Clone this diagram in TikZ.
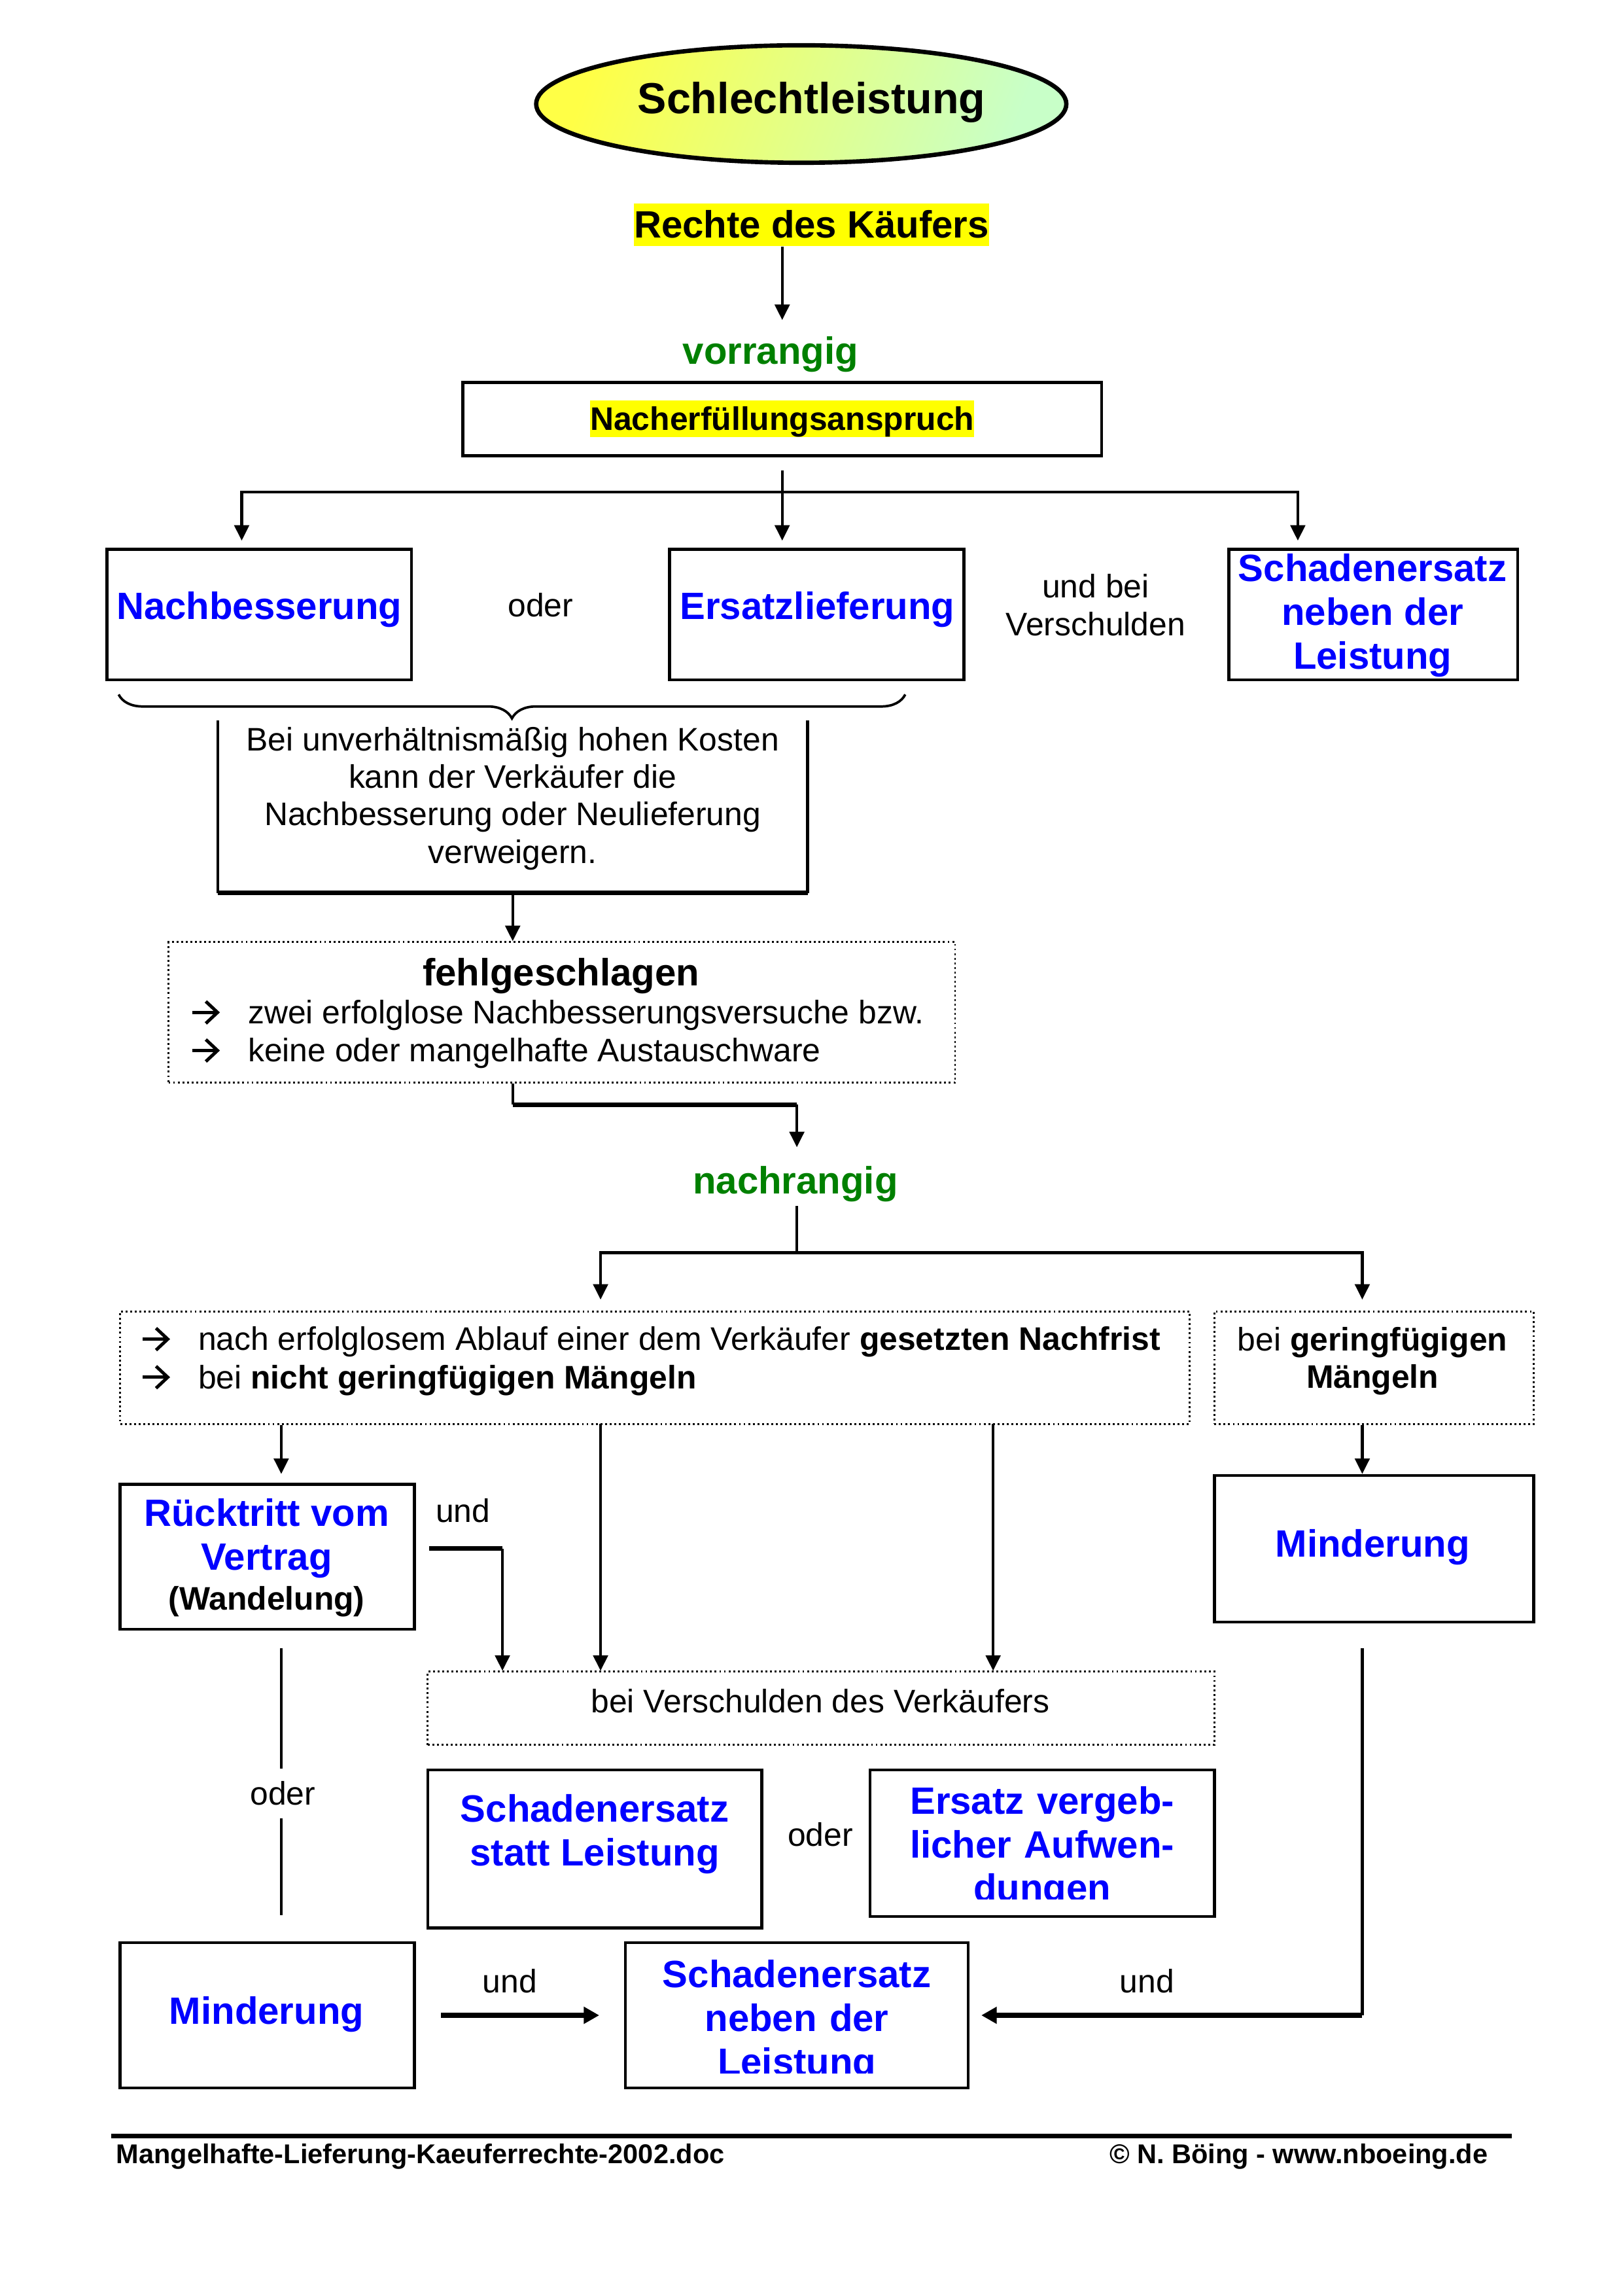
\documentclass[tikz,border=0pt]{standalone}
\usepackage{fontspec}
\setmainfont{Liberation Sans}
\usetikzlibrary{shapes.geometric, arrows.meta, fit, decorations.pathreplacing}
\definecolor{myblue}{RGB}{0,0,255}
\definecolor{mygreen}{RGB}{0,128,0}
\definecolor{hly}{RGB}{255,255,0}
\definecolor{elly}{RGB}{255,255,70}
\definecolor{ellg}{RGB}{200,255,200}
\tikzset{
  box/.style={draw, line width=1.1pt, inner sep=0pt},
  dbox/.style={draw, densely dotted, line width=0.7pt, inner sep=0pt},
  ttl/.style={font=\fontsize{14}{16.1}\selectfont\bfseries, text=myblue, align=center, inner sep=0pt},
  txt/.style={font=\fontsize{12}{13.8}\selectfont, align=center, inner sep=0pt},
  btxt/.style={font=\fontsize{12}{13.8}\selectfont\bfseries, align=center, inner sep=0pt},
  gtxt/.style={font=\fontsize{14}{16.1}\selectfont\bfseries, text=mygreen, inner sep=0pt},
  arr/.style={line width=1pt, -{Triangle[length=2mm, width=1.9mm]}},
  ln/.style={line width=1pt},
  thk/.style={line width=1.7pt},
  bigarr/.style={line width=1.7pt, -{Triangle[length=2mm, width=2.1mm]}},
  rarr/.pic={
    \draw[line width=0.42mm] (-8.5,0) -- (7.5,0);
    \draw[line width=0.42mm, miter limit=10] (0.5,-7.5) -- (8.5,0) -- (0.5,7.5);
  },
}
\begin{document}
\begin{tikzpicture}[x=0.18953mm, y=-0.18953mm]
\useasboundingbox (0,0) rectangle (1108,1567.1);

% Title
\node[ellipse, draw, line width=1.6pt, minimum width=68.6mm, minimum height=15.2mm,
      left color=elly, right color=ellg, shading angle=70, inner sep=0pt] (ell) at (547,71) {};
\node[font=\fontsize{16}{18}\selectfont\bfseries, inner sep=0pt] (tit) at (554,70) {Schlechtleistung};

\node[fill=hly, inner sep=0pt, text height=12.7pt, text depth=3pt,
      font=\fontsize{14}{16}\selectfont\bfseries] (rk) at (554,153.5) {Rechte des Käufers};

\node[gtxt] (vor) at (526,242) {vorrangig};

\node[box, fit={(316,261) (752,311)}] (nfa) {};
\node[fill=hly, inner sep=0pt, text height=10.9pt, text depth=2.6pt,
      font=\fontsize{12}{13.8}\selectfont\bfseries] (nfat) at (534,286) {Nacherfüllungsanspruch};

\draw[arr] (rk.south -| nfa.north) -- ++(0,50);

% Branch 1
\coordinate (br) at (534,336);
\coordinate (bl) at (165,369);
\coordinate (bm) at (534,369);
\coordinate (bri) at (886,369);
\draw[ln, shorten <=1.7mm] (nfa.south) -- (br);
\draw[arr] (br) -| (bl);
\draw[arr] (br) -- (bm);
\draw[arr] (br) -| (bri);

% Row 1
\node[box, fit={(73,375) (281,464)}] (nb) {};
\node[ttl] (nbt) at (177,416) {Nachbesserung};
\node[txt] (od1) at (369,413) {oder};
\node[box, fit={(457,375) (658,464)}] (el) {};
\node[ttl] (elt) at (558,416) {Ersatzlieferung};
\node[txt] (ubv) at (748,413) {und bei\\Verschulden};
\node[box, fit={(839,375) (1036,464)}] (se1) {};
\node[ttl] (se1t) at (937,420) {Schadenersatz\\neben der\\Leistung};

% Brace
\draw[line width=0.9pt, decorate, decoration={brace, mirror, amplitude=3.1mm}] (81,474) -- (618,474);

% Box Bei unverhältnismäßig
\node[fit={(149,492) (551,609)}, inner sep=0pt] (bk) {};
\draw[line width=1.1pt] (bk.north west) -- (bk.south west);
\draw[line width=1.7pt] (bk.south west) -- (bk.south east);
\draw[line width=1.1pt] (bk.south east) -- (bk.north east);
\node[txt] (bkt) at (350,545) {Bei unverhältnismäßig hohen Kosten\\kann der Verkäufer die\\Nachbesserung oder Neulieferung\\verweigern.};

% fehlgeschlagen
\node[dbox, fit={(115,643) (652,739)}] (fg) {};
\draw[arr] (bk.south) -- (bk.south |- fg.north);
\node[font=\fontsize{14}{16}\selectfont\bfseries, inner sep=0pt] (fgt) at (383,666) {fehlgeschlagen};
\pic at (140,691) {rarr};
\pic at (140,717) {rarr};
\node[txt, anchor=west] (fgl1) at (169,693) {zwei erfolglose Nachbesserungsversuche bzw.};
\node[txt, anchor=west] (fgl2) at (169,719) {keine oder mangelhafte Austauschware};

\coordinate (c1) at (350,754);
\coordinate (c2) at (544,754);
\coordinate (c3) at (544,783);
\draw[ln] (fg.south -| c1) -- (c1);
\draw[thk] (c1) -- (c2);
\draw[arr] (c2) -- (c3);

\node[gtxt] (nr) at (543,808) {nachrangig};

% Branch 2
\coordinate (c4) at (544,823);
\coordinate (c5) at (544,855);
\coordinate (c6) at (410,887);
\coordinate (c7) at (930,887);
\draw[ln] (c4) -- (c5);
\draw[arr] (c5) -| (c6);
\draw[arr] (c5) -| (c7);

% Conditions
\node[dbox, fit={(82,895) (812,972)}] (n1) {};
\pic at (106,914) {rarr};
\pic at (106,940) {rarr};
\node[txt, anchor=west] (n1l1) at (135,916) {nach erfolglosem Ablauf einer dem Verkäufer \textbf{gesetzten Nachfrist}};
\node[txt, anchor=west] (n1l2) at (135,942) {bei \textbf{nicht geringfügigen Mängeln}};

\node[dbox, fit={(829,895) (1047,972)}] (n2) {};
\node[txt] (n2t) at (937,929) {bei \textbf{geringfügigen}\\\textbf{Mängeln}};

% Rücktritt
\node[box, fit={(82,1013) (283,1112)}] (rt) {};
\node[ttl] (rtt) at (182,1050) {Rücktritt vom\\Vertrag};
\node[btxt] (rtw) at (182,1093) {(Wandelung)};

\coordinate (a192) at (192,1006);
\draw[arr] (n1.south -| a192) -- (a192);

% Minderung right
\node[box, fit={(829,1007) (1047,1107)}] (mr) {};
\node[ttl] (mrt) at (937,1056) {Minderung};
\coordinate (a930) at (930,1006);
\draw[arr] (n2.south -| a930) -- (a930);

% bei Verschulden des Verkäufers
\node[dbox, fit={(292,1141) (829,1191)}] (bv) {};
\node[txt] (bvt) at (560,1161) {bei Verschulden des Verkäufers};

\node[txt] (und1) at (316,1031) {und};
\coordinate (u1) at (293,1057);
\coordinate (u2) at (343,1057);
\draw[thk] (u1) -- (u2);
\draw[arr] (u2) -- (u2 |- bv.north);

\coordinate (a410) at (410,972);
\coordinate (a678) at (678,972);
\draw[arr] (a410) -- (a410 |- bv.north);
\draw[arr] (a678) -- (a678 |- bv.north);

% oder vertical
\coordinate (o1) at (192,1125);
\coordinate (o2) at (192,1207);
\coordinate (o3) at (192,1241);
\coordinate (o4) at (192,1307);
\draw[ln] (o1) -- (o2);
\node[txt] (od2) at (193,1224) {oder};
\draw[ln] (o3) -- (o4);

% Schadenersatz statt Leistung
\node[box, fit={(292,1208) (520,1316)}] (ss) {};
\node[ttl] (sst) at (406,1252) {Schadenersatz\\statt Leistung};
\node[txt] (od3) at (560,1252) {oder};
\node[box, fit={(594,1208) (829,1308)},
      path picture={
        \clip ([yshift=2.2mm]path picture bounding box.south west) rectangle (path picture bounding box.north east);
        \node[ttl] (evt) at ([yshift=-2.4mm]path picture bounding box.center) {Ersatz vergeb-\\licher Aufwen-\\dungen};}] (ev) {};

% Bottom row
\node[box, fit={(82,1326) (283,1425)}] (mb) {};
\node[ttl] (mbt) at (182,1375) {Minderung};
\node[txt] (und2) at (348,1352) {und};
\node[box, fit={(427,1326) (661,1425)},
      path picture={
        \clip ([yshift=1.9mm]path picture bounding box.south west) rectangle (path picture bounding box.north east);
        \node[ttl] (sbt) at ([yshift=-2.6mm]path picture bounding box.center) {Schadenersatz\\neben der\\Leistung};}] (sb) {};
\node[txt] (und3) at (783,1352) {und};
\draw[bigarr, shorten <=3.2mm, shorten >=3.2mm] (mb.east) -- (sb.west);

\coordinate (r1) at (930,1125);
\draw[ln] (r1) -- (r1 |- sb.east);
\draw[bigarr, shorten >=1.5mm] (r1 |- sb.east) -- (sb.east);

% Footer
\coordinate (f1) at (76,1458);
\coordinate (f2) at (1032,1458);
\draw[line width=1.6pt] (f1) -- (f2);
\node[font=\fontsize{10}{12}\selectfont\bfseries, anchor=west, inner sep=0pt] (fl) at (79,1472) {Mangelhafte-Lieferung-Kaeuferrechte-2002.doc};
\node[font=\fontsize{10}{12}\selectfont\bfseries, anchor=east, inner sep=0pt] (fr) at (1016,1472) {© N. Böing - www.nboeing.de};
\end{tikzpicture}
\end{document}
